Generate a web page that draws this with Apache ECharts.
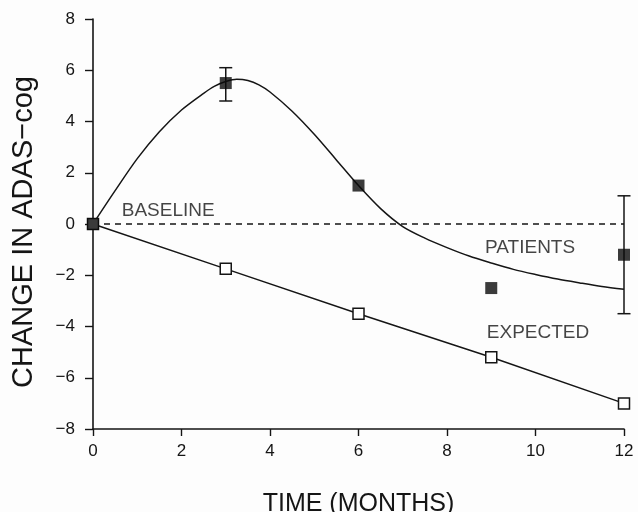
<!DOCTYPE html>
<html>
<head>
<meta charset="utf-8">
<script src="https://cdn.jsdelivr.net/npm/echarts@6/dist/echarts.min.js"></script>
<style>html,body{margin:0;padding:0;background:#fdfdfd;}#c{width:638px;height:512px;}</style>
</head>
<body>
<div id="c"></div>
<script>
// Observed patient means (filled squares)
var patientMonths = [0, 3, 6, 9, 12];
var patientValues = [0, 5.5, 1.5, -2.5, -1.2];
// Error bars [month, low, high]
var errMonths = [3, 12];
var errLow = [4.8, -3.5];
var errHigh = [6.1, 1.1];
// Expected values (open squares)
var expectedMonths = [0, 3, 6, 9, 12];
var expectedValues = [0, -1.75, -3.5, -5.2, -7.0];
// Fitted patient curve
var curveMonths = [0, 0.5, 1, 1.5, 2, 2.5, 2.75, 3, 3.25, 3.5, 3.75, 4, 4.5, 5, 5.5, 6, 6.5, 7, 7.5, 8, 8.5, 9, 9.5, 10, 10.5, 11, 11.5, 12];
var curveValues = [0, 1.3, 2.55, 3.6, 4.45, 5.1, 5.38, 5.56, 5.65, 5.6, 5.43, 5.15, 4.4, 3.5, 2.5, 1.5, 0.6, -0.1, -0.55, -0.92, -1.25, -1.52, -1.77, -1.97, -2.15, -2.3, -2.44, -2.55];
// Baseline
var baselineMonths = [0, 12];
var baselineValues = [0, 0];
// Annotations
var annText = ['BASELINE', 'PATIENTS', 'EXPECTED'];
var annX = [0.65, 8.86, 8.9];
var annY = [0.5, -0.94, -4.26];
// Ticks
var xTicks = [0, 2, 4, 6, 8, 10, 12];
var yTicks = [-8, -6, -4, -2, 0, 2, 4, 6, 8];

var ink = '#151515';
var font = 'Liberation Sans, Arial, sans-serif';
function zip(a, b) { return a.map(function (v, i) { return [v, b[i]]; }); }
function minus(v) { return String(v).replace('-', '\u2212'); }

var chart = echarts.init(document.getElementById('c'));
chart.setOption({
  animation: false,
  backgroundColor: '#fdfdfd',
  grid: { left: 93, right: 14, top: 19, bottom: 83, containLabel: false, outerBoundsMode: 'none' },
  xAxis: {
    type: 'value', min: xTicks[0], max: xTicks[xTicks.length - 1], interval: 2,
    name: 'TIME (MONTHS)', nameLocation: 'middle', nameGap: 63,
    nameTextStyle: { color: ink, fontSize: 25, fontFamily: font },
    axisLine: { onZero: false, lineStyle: { color: ink, width: 1.6 } },
    axisTick: { inside: false, length: 7, lineStyle: { color: ink, width: 1.4 } },
    axisLabel: { color: ink, fontSize: 17, fontFamily: font, margin: 14 },
    splitLine: { show: false }
  },
  yAxis: {
    type: 'value', min: yTicks[0], max: yTicks[yTicks.length - 1], interval: 2,
    name: 'CHANGE IN ADAS\u2212cog', nameLocation: 'middle', nameGap: 55,
    nameTextStyle: { color: ink, fontSize: 29, fontFamily: font, padding: [0, 16, 0, 0] },
    axisLine: { onZero: false, lineStyle: { color: ink, width: 1.6 } },
    axisTick: { inside: false, length: 8, lineStyle: { color: ink, width: 1.4 } },
    axisLabel: { color: ink, fontSize: 17, fontFamily: font, margin: 18, formatter: minus },
    splitLine: { show: false }
  },
  series: [
    {
      type: 'line', data: zip(baselineMonths, baselineValues), symbol: 'none',
      lineStyle: { color: ink, width: 1.5, type: [6, 5] }, z: 1
    },
    {
      type: 'line', data: zip(curveMonths, curveValues), symbol: 'none', smooth: 0.3,
      lineStyle: { color: ink, width: 1.5 }, z: 2
    },
    {
      type: 'line', data: zip(expectedMonths, expectedValues), symbol: 'rect', symbolSize: 11,
      itemStyle: { color: '#fff', borderColor: ink, borderWidth: 1.5 },
      lineStyle: { color: ink, width: 1.5 }, z: 3
    },
    {
      type: 'custom', z: 4,
      data: errMonths.map(function (m, i) { return [m, errLow[i], errHigh[i]]; }),
      renderItem: function (params, api) {
        var lo = api.coord([api.value(0), api.value(1)]);
        var hi = api.coord([api.value(0), api.value(2)]);
        var w = 6.5;
        var st = { stroke: ink, lineWidth: 1.5 };
        return { type: 'group', children: [
          { type: 'line', shape: { x1: lo[0], y1: lo[1], x2: hi[0], y2: hi[1] }, style: st },
          { type: 'line', shape: { x1: lo[0] - w, y1: lo[1], x2: lo[0] + w, y2: lo[1] }, style: st },
          { type: 'line', shape: { x1: hi[0] - w, y1: hi[1], x2: hi[0] + w, y2: hi[1] }, style: st }
        ] };
      }
    },
    {
      type: 'scatter', data: zip(patientMonths, patientValues), symbol: 'rect', symbolSize: 12,
      itemStyle: { color: '#0a0a0a' }, z: 5
    },
    {
      type: 'scatter', symbolSize: 1, itemStyle: { color: 'rgba(0,0,0,0)' }, z: 6,
      data: annText.map(function (t, i) { return { value: [annX[i], annY[i]], name: t }; }),
      label: {
        show: true, position: 'inside', align: 'left', verticalAlign: 'middle',
        formatter: function (p) { return p.name; },
        color: ink, fontSize: 19, fontFamily: font
      }
    }
  ]
});
</script>
</body>
</html>
